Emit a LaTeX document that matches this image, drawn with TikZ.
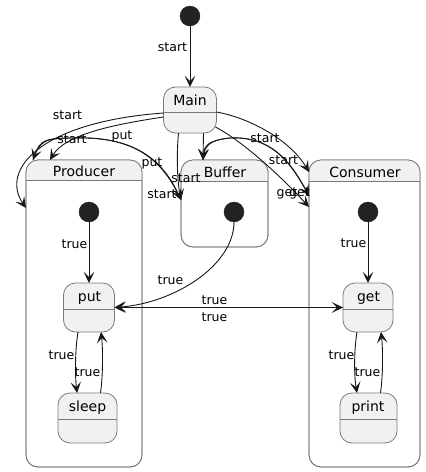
\documentclass[tikz,border=0pt]{standalone}
\usepackage{fontspec}
\setmainfont{DejaVu Sans}
\usetikzlibrary{arrows.meta}
\definecolor{hdr}{HTML}{F1F1F1}
\definecolor{bord}{HTML}{7A7A7A}
\definecolor{ink}{HTML}{181818}
\definecolor{dot}{HTML}{222222}
\newcommand\hdrfill[2]{%
  \begin{scope}
    \clip (#1.north west) rectangle (#1.east |- 0,#2);
    \fill[hdr, rounded corners=12pt] (#1.north west) rectangle (#1.south east);
  \end{scope}
  \draw[bord, line width=0.8pt, rounded corners=12pt] (#1.north west) rectangle (#1.south east);
  \draw[bord, line width=0.8pt] (#1.west |- 0,#2) -- (#1.east |- 0,#2);}
\newcommand\sepline[2]{\draw[bord, line width=0.8pt] (#1.west |- 0,#2) -- (#1.east |- 0,#2);}
\begin{document}
\begin{tikzpicture}[x=1pt, y=-1pt,
  st/.style={draw=bord, fill=hdr, rounded corners=12pt, inner sep=0, outer sep=0, line width=0.8pt},
  comp/.style={draw=bord, fill=white, rounded corners=12pt, inner sep=0, outer sep=0, line width=0.8pt},
  init/.style={circle, fill=dot, draw=dot, minimum size=20pt, inner sep=0, outer sep=0},
  nm/.style={font=\fontsize{14}{16}\selectfont, inner sep=0, anchor=base, text=black},
  lbl/.style={font=\fontsize{12.5}{14}\selectfont, inner sep=0, anchor=base, text=black},
  edge/.style={draw=ink, line width=0.9pt, -{Stealth[length=11pt,width=10.5pt,inset=5pt]}}]
\useasboundingbox (0,0) rectangle (426,472);

% composite states
\node[comp, minimum width=116, minimum height=307] (prod) at (84,313.5) {};
\hdrfill{prod}{180}
\node[nm] (tprod) at (84,176.5) {Producer};
\node[comp, minimum width=87, minimum height=87] (buf) at (224.5,203.5) {};
\hdrfill{buf}{181}
\node[nm] (tbuf) at (225,177) {Buffer};
\node[comp, minimum width=111, minimum height=307] (cons) at (364.5,313.5) {};
\hdrfill{cons}{181}
\node[nm] (tcons) at (365,177) {Consumer};

% simple states
\node[st, minimum width=53, minimum height=46] (main) at (190,110) {};
\sepline{main}{112}
\node[nm] (tmain) at (190,105) {Main};
\node[st, minimum width=51, minimum height=49] (put) at (89,307.5) {};
\sepline{put}{309}
\node[nm] (tput) at (89.5,301) {put};
\node[st, minimum width=50, minimum height=49] (get) at (368,307.5) {};
\sepline{get}{309}
\node[nm] (tget) at (368.5,301) {get};
\node[st, minimum width=59, minimum height=50] (sleep) at (87.5,418) {};
\sepline{sleep}{419}
\node[nm] (tsleep) at (87.5,411) {sleep};
\node[st, minimum width=57, minimum height=50] (print) at (368.5,418) {};
\sepline{print}{419}
\node[nm] (tprint) at (368,411) {print};

% initial states
\node[init] (i0) at (190,16) {};
\node[init] (iP) at (89,212) {};
\node[init] (iB) at (234,212) {};
\node[init] (iC) at (368,212) {};

% edges
\draw[edge] (i0) -- (main);
\draw[edge] ([shift={(0,3)}]main.west) .. controls (40,122) and (0,170) .. ([shift={(0,48)}]prod.north west);
\draw[edge] ([shift={(0,7)}]main.west) .. controls (110,125) and (65,135) .. ([shift={(24,0)}]prod.north west);
\draw[edge] ([shift={(7,0)}]prod.north west) .. controls (40,140) and (45,138) .. (75,138) .. controls (140,136) and (165,165) .. ([shift={(0,40)}]buf.north west);
\draw[edge] ([shift={(0,40)}]buf.north west) .. controls (165,165) and (140,136) .. (75,138) .. controls (45,138) and (40,140) .. ([shift={(7,0)}]prod.north west);
\draw[edge] ([shift={(15,0)}]main.south west) .. controls (176,160) and (178,185) .. ([shift={(0,40)}]buf.north west);
\draw[edge] ([shift={(40,0)}]main.south west) -- ([shift={(22,0)}]buf.north west);
\draw[edge] ([shift={(0,36)}]cons.north west) .. controls (290,160) and (270,136) .. (230,138) .. controls (210,140) and (204,145) .. ([shift={(22,0)}]buf.north west);
\draw[edge] ([shift={(22,0)}]buf.north west) .. controls (204,145) and (210,140) .. (230,138) .. controls (270,136) and (290,160) .. ([shift={(0,36)}]cons.north west);
\draw[edge] ([shift={(0,2)}]main.east) .. controls (250,118) and (290,140) .. ([shift={(0,12)}]cons.north west);
\draw[edge] ([shift={(-1,17)}]main.east) .. controls (240,140) and (275,170) .. ([shift={(0,47)}]cons.north west);
\draw[edge] (iP) -- (put);
\draw[edge] (iC) -- (get);
\draw[edge] (iB.south) .. controls (234,265) and (175,303) .. (put.east);
\draw[edge] (put.east) -- (get.west);
\draw[edge] (get.west) -- (put.east);
\draw[edge] ([shift={(-11,0)}]put.south) .. controls (75,350) and (75,375) .. ([shift={(-10.5,0)}]sleep.north);
\draw[edge] ([shift={(13,0)}]sleep.north) .. controls (103,375) and (103,350) .. ([shift={(12,0)}]put.south);
\draw[edge] ([shift={(-11,0)}]get.south) .. controls (354,350) and (354,375) .. ([shift={(-11.5,0)}]print.north);
\draw[edge] ([shift={(12,0)}]print.north) .. controls (383,375) and (383,350) .. ([shift={(13,0)}]get.south);

% labels
\node[lbl] (l0) at (172.5,51.5) {start};
\node[lbl] (l1) at (67.5,119) {start};
\node[lbl] (l2) at (72,143) {start};
\node[lbl] (l3) at (122,139.5) {put};
\node[lbl] (l4) at (152,166) {put};
\node[lbl] (l5) at (186,182) {start};
\node[lbl] (l6) at (162,198) {start};
\node[lbl] (l7) at (265,142.7) {start};
\node[lbl] (l8) at (283.5,164) {start};
\node[lbl] (l9) at (287,196.5) {get};
\node[lbl] (l10) at (299.5,196.5) {get};
\node[lbl] (l11) at (74.5,248) {true};
\node[lbl] (l12) at (170.5,284) {true};
\node[lbl] (l13) at (214.5,304.5) {true};
\node[lbl] (l14) at (214.5,321) {true};
\node[lbl] (l15) at (353.5,247.5) {true};
\node[lbl] (l16) at (61.5,359) {true};
\node[lbl] (l17) at (87.5,376.7) {true};
\node[lbl] (l18) at (341.5,359) {true};
\node[lbl] (l19) at (367.5,376.7) {true};
\end{tikzpicture}
\end{document}
